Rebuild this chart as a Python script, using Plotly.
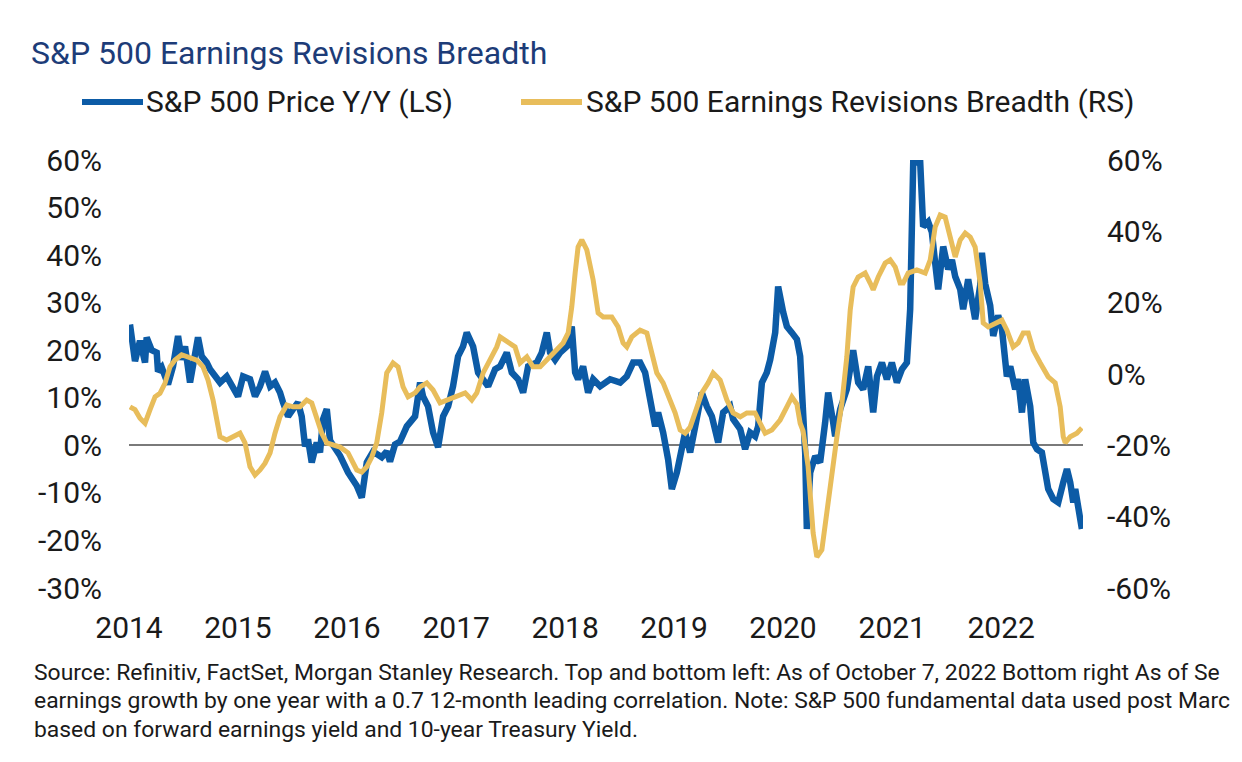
import pandas as pd
import plotly.graph_objects as go

# ---------------- data ----------------
# decimal years
price_t = [2014.009, 2014.055, 2014.101, 2014.147, 2014.162, 2014.208, 2014.254, 2014.266, 2014.300, 2014.358,
           2014.404, 2014.450, 2014.483, 2014.514, 2014.560, 2014.587, 2014.633, 2014.667, 2014.713, 2014.743,
           2014.789, 2014.835, 2014.896, 2014.954, 2015.000, 2015.046, 2015.110, 2015.156, 2015.202, 2015.248,
           2015.294, 2015.339, 2015.385, 2015.413, 2015.459, 2015.505, 2015.550, 2015.584, 2015.615, 2015.642,
           2015.676, 2015.722, 2015.752, 2015.780, 2015.814, 2015.844, 2015.936, 2016.009, 2016.089, 2016.135,
           2016.181, 2016.239, 2016.318, 2016.364, 2016.394, 2016.440, 2016.486, 2016.548, 2016.624, 2016.670,
           2016.697, 2016.743, 2016.789, 2016.835, 2016.881, 2016.927, 2016.972, 2017.018, 2017.064, 2017.098,
           2017.156, 2017.202, 2017.248, 2017.294, 2017.358, 2017.404, 2017.465, 2017.511, 2017.569, 2017.615,
           2017.661, 2017.740, 2017.786, 2017.832, 2017.862, 2017.908, 2017.954, 2018.016, 2018.061, 2018.092,
           2018.119, 2018.165, 2018.211, 2018.257, 2018.321, 2018.413, 2018.505, 2018.566, 2018.624, 2018.688,
           2018.734, 2018.780, 2018.826, 2018.853, 2018.899, 2018.945, 2018.979, 2019.025, 2019.071, 2019.101,
           2019.147, 2019.208, 2019.254, 2019.300, 2019.346, 2019.404, 2019.450, 2019.514, 2019.541, 2019.606,
           2019.651, 2019.697, 2019.743, 2019.771, 2019.805, 2019.850, 2019.881, 2019.927, 2019.954, 2020.000,
           2020.034, 2020.080, 2020.126, 2020.156, 2020.183, 2020.202, 2020.217, 2020.248, 2020.294, 2020.339,
           2020.385, 2020.413, 2020.459, 2020.477, 2020.523, 2020.584, 2020.642, 2020.688, 2020.734, 2020.780,
           2020.826, 2020.860, 2020.906, 2020.951, 2020.997, 2021.043, 2021.089, 2021.135, 2021.165, 2021.193,
           2021.257, 2021.284, 2021.330, 2021.364, 2021.394, 2021.422, 2021.468, 2021.514, 2021.548, 2021.578,
           2021.624, 2021.651, 2021.697, 2021.761, 2021.807, 2021.823, 2021.853, 2021.899, 2021.927, 2021.972,
           2022.006, 2022.052, 2022.083, 2022.128, 2022.156, 2022.190, 2022.220, 2022.266, 2022.294, 2022.328,
           2022.373, 2022.404, 2022.431, 2022.477, 2022.523, 2022.569, 2022.603, 2022.633, 2022.661, 2022.679,
           2022.706, 2022.740]
price_yoy = [25.4, 17.7, 22.0, 17.4, 22.7, 20.0, 19.5, 15.5, 16.4, 12.8,
             16.6, 23.0, 18.0, 20.8, 13.2, 17.4, 22.7, 18.7, 17.4, 16.0,
             14.5, 13.2, 14.5, 12.4, 10.3, 14.5, 13.9, 10.3, 12.4, 15.5,
             12.4, 13.2, 11.1, 9.0, 6.1, 7.6, 9.0, 6.1, -0.2, 1.3,
             -3.6, 0.6, -1.5, 5.5, 7.6, 1.0, -2.2, -5.7, -8.5, -11.0,
             -3.6, -1.3, -2.5, -1.3, -3.4, 0.2, 0.8, 4.0, 6.1, 13.2,
             10.3, 8.2, 2.7, -0.4, 6.1, 8.2, 12.4, 18.7, 20.8, 23.7,
             20.8, 15.3, 13.9, 12.4, 16.0, 16.6, 19.5, 15.3, 13.9, 11.1,
             16.6, 17.4, 19.5, 23.7, 19.5, 18.0, 19.5, 20.8, 25.0, 15.3,
             13.9, 16.6, 11.1, 13.9, 12.4, 13.9, 13.2, 14.5, 17.4, 17.4,
             15.3, 9.7, 4.0, 6.9, 2.7, -3.0, -9.2, -5.7, -0.2, 2.7,
             -1.5, 4.8, 11.1, 8.2, 6.1, 0.6, 6.9, 8.2, 5.5, 3.4,
             -0.8, 2.7, 1.9, 4.0, 13.2, 15.3, 18.0, 23.7, 33.4, 28.0,
             25.0, 23.7, 22.3, 18.7, 8.2, -1.5, -17.6, -5.7, -2.3, -3.6,
             4.8, 11.1, 4.8, 1.9, 7.6, 11.8, 20.0, 13.2, 11.8, 16.6,
             6.9, 14.5, 17.4, 13.9, 17.4, 13.2, 16.0, 17.4, 28.6, 59.5,
             59.5, 46.0, 47.0, 44.8, 38.4, 32.8, 41.8, 37.0, 39.0, 35.5,
             32.8, 28.6, 34.9, 26.5, 33.6, 40.5, 34.0, 29.4, 23.0, 27.3,
             24.6, 14.5, 16.6, 11.8, 13.9, 6.9, 13.9, 8.2, 0.6, -0.8,
             -1.5, -5.0, -9.2, -11.3, -12.0, -7.8, -5.0, -7.8, -12.0, -9.2,
             -13.4, -17.6]

breadth_t = [2014.009, 2014.055, 2014.101, 2014.147, 2014.193, 2014.239, 2014.284, 2014.330, 2014.376, 2014.422,
             2014.483, 2014.541, 2014.621, 2014.679, 2014.725, 2014.771, 2014.805, 2014.835, 2014.896, 2014.954,
             2015.018, 2015.064, 2015.110, 2015.156, 2015.202, 2015.248, 2015.294, 2015.339, 2015.385, 2015.447,
             2015.505, 2015.569, 2015.630, 2015.676, 2015.722, 2015.768, 2015.814, 2015.936, 2016.009, 2016.089,
             2016.135, 2016.181, 2016.227, 2016.272, 2016.318, 2016.364, 2016.422, 2016.468, 2016.514, 2016.560,
             2016.624, 2016.670, 2016.731, 2016.789, 2016.853, 2016.927, 2017.006, 2017.083, 2017.144, 2017.190,
             2017.248, 2017.312, 2017.373, 2017.404, 2017.465, 2017.541, 2017.587, 2017.649, 2017.706, 2017.771,
             2017.832, 2017.890, 2017.982, 2018.028, 2018.061, 2018.092, 2018.119, 2018.153, 2018.199, 2018.257,
             2018.303, 2018.349, 2018.428, 2018.486, 2018.532, 2018.566, 2018.612, 2018.688, 2018.750, 2018.795,
             2018.841, 2018.899, 2018.963, 2019.009, 2019.055, 2019.101, 2019.147, 2019.208, 2019.254, 2019.312,
             2019.358, 2019.422, 2019.484, 2019.541, 2019.606, 2019.667, 2019.743, 2019.789, 2019.835, 2019.896,
             2019.972, 2020.034, 2020.080, 2020.126, 2020.156, 2020.183, 2020.229, 2020.275, 2020.309, 2020.355,
             2020.401, 2020.447, 2020.493, 2020.539, 2020.584, 2020.615, 2020.642, 2020.688, 2020.752, 2020.798,
             2020.826, 2020.872, 2020.936, 2020.982, 2021.028, 2021.073, 2021.101, 2021.147, 2021.226, 2021.303,
             2021.349, 2021.394, 2021.440, 2021.486, 2021.532, 2021.578, 2021.624, 2021.670, 2021.716, 2021.761,
             2021.807, 2021.835, 2021.881, 2021.945, 2022.006, 2022.052, 2022.110, 2022.156, 2022.202, 2022.248,
             2022.294, 2022.358, 2022.431, 2022.495, 2022.541, 2022.569, 2022.587, 2022.633, 2022.694, 2022.740]
breadth = [-9.2, -10.0, -12.4, -13.8, -10.0, -6.4, -5.4, -2.6, 2.0, 3.9,
           5.4, 4.8, 3.9, 2.0, -1.7, -7.3, -13.8, -17.6, -18.5, -17.6,
           -16.6, -19.3, -26.0, -28.3, -26.9, -25.0, -22.1, -16.6, -12.0, -8.7,
           -9.2, -9.2, -7.3, -8.1, -12.9, -16.6, -19.3, -20.5, -22.1, -26.9,
           -27.5, -26.0, -23.3, -19.3, -10.9, 0.3, 3.1, 2.0, -3.6, -6.4,
           -5.3, -3.6, -2.5, -4.5, -8.1, -7.3, -6.4, -5.3, -7.3, -5.3,
           0.3, 3.9, 7.6, 10.4, 9.2, 7.6, 3.1, 4.8, 2.0, 2.0,
           3.9, 5.9, 8.7, 11.5, 18.8, 28.3, 35.6, 37.6, 34.8, 26.4,
           17.1, 16.0, 16.0, 13.2, 8.7, 7.6, 10.4, 12.3, 11.5, 5.9,
           0.3, -2.5, -7.3, -10.9, -15.7, -16.6, -14.9, -9.2, -5.3, -2.5,
           0.3, -1.7, -7.3, -10.9, -12.0, -10.9, -10.9, -13.8, -16.6, -15.7,
           -12.9, -9.2, -6.4, -8.5, -13.8, -16.0, -26.0, -44.6, -51.3, -49.3,
           -38.1, -26.9, -17.6, -8.1, 4.8, 17.9, 24.4, 27.2, 28.3, 25.5,
           23.6, 27.2, 31.1, 32.0, 30.0, 25.5, 25.5, 28.3, 29.2, 28.3,
           32.0, 41.2, 44.6, 44.0, 38.4, 32.8, 37.6, 39.5, 38.4, 35.6,
           25.5, 14.3, 13.2, 14.3, 15.1, 12.3, 7.6, 8.7, 11.5, 11.5,
           6.7, 3.1, -0.8, -2.5, -9.2, -17.6, -19.3, -17.6, -16.6, -15.1]

left_ticks = [60, 50, 40, 30, 20, 10, 0, -10, -20, -30]
left_labels = ["60%", "50%", "40%", "30%", "20%", "10%", "0%", "-10%", "-20%", "-30%"]
right_ticks = [60, 40, 20, 0, -20, -40, -60]
right_labels = ["60%", "40%", "20%", "0%", "-20%", "-40%", "-60%"]
years = [2014, 2015, 2016, 2017, 2018, 2019, 2020, 2021, 2022]

series_names = ["S&P 500 Price Y/Y (LS)", "S&P 500 Earnings Revisions Breadth (RS)"]
title_text = "S&P 500 Earnings Revisions Breadth"
# footer as visible in the reference (it runs off the right edge there)
footer_lines = [
    "Source: Refinitiv, FactSet, Morgan Stanley Research. Top and bottom left: As of October 7, 2022 Bottom right As of Se",
    "earnings growth by one year with a 0.7 12-month leading correlation. Note: S&P 500 fundamental data used post Marc",
    "based on forward earnings yield and 10-year Treasury Yield.",
]

# ---------------- styling ----------------
BLUE = "#0C5BA6"
GOLD = "#E8BD5B"
NAVY = "#1D3C78"
TEXT = "#1a1a1a"
W, H = 1242, 762
ML, MR, MT, MB = 129, 159, 160, 174
PW, PH = W - ML - MR, H - MT - MB
REG = "Roboto, Liberation Sans, sans-serif"


def to_dates(ts):
    base = pd.Timestamp("2014-01-01")
    return [base + pd.to_timedelta((t - 2014) * 365.25, unit="D") for t in ts]


def px(x):
    return (x - ML) / PW


def py(y):
    return (H - MB - y) / PH


fig = go.Figure()
fig.add_trace(go.Scatter(x=to_dates(price_t), y=price_yoy, mode="lines", name=series_names[0],
                         line=dict(color=BLUE, width=6.5), yaxis="y"))
fig.add_trace(go.Scatter(x=to_dates(breadth_t), y=breadth, mode="lines", name=series_names[1],
                         line=dict(color=GOLD, width=5), yaxis="y2"))

# manual legend (line + text)
shapes = [
    dict(type="line", xref="paper", yref="paper", x0=px(82), x1=px(143), y0=py(102), y1=py(102),
         line=dict(color=BLUE, width=6)),
    dict(type="line", xref="paper", yref="paper", x0=px(521), x1=px(582), y0=py(102), y1=py(102),
         line=dict(color=GOLD, width=6)),
]
annotations = [
    dict(text=series_names[0], xref="paper", yref="paper", x=px(144), y=py(102), xanchor="left",
         yanchor="middle", showarrow=False, font=dict(family=REG, size=30, color=TEXT)),
    dict(text=series_names[1], xref="paper", yref="paper", x=px(584), y=py(102), xanchor="left",
         yanchor="middle", showarrow=False, font=dict(family=REG, size=30, color=TEXT)),
]
for line_text, yc in zip(footer_lines, [672, 700, 729]):
    annotations.append(dict(text=line_text, xref="paper", yref="paper", x=px(32), y=py(yc),
                            xanchor="left", yanchor="middle", align="left", showarrow=False,
                            font=dict(family=REG, size=22.9, color=TEXT)))

fig.update_layout(
    width=W, height=H,
    margin=dict(l=ML, r=MR, t=MT, b=MB),
    paper_bgcolor="white", plot_bgcolor="white",
    showlegend=False,
    title=dict(text=title_text, xref="container", yref="container", x=31 / W, y=1 - 53 / H,
               xanchor="left", yanchor="middle", font=dict(family=REG, size=32, color=NAVY)),
    xaxis=dict(type="date", range=["2014-01-01", "2022-10-02"], showgrid=False, zeroline=False,
               showline=False, tickvals=[f"{y}-01-01" for y in years], ticktext=[str(y) for y in years],
               tickfont=dict(family=REG, size=30, color=TEXT), ticklabelstandoff=19),
    yaxis=dict(range=[-30, 60], showgrid=False, zeroline=True, zerolinecolor="#7a7a7a", zerolinewidth=2,
               showline=False, tickvals=left_ticks, ticktext=left_labels,
               tickfont=dict(family=REG, size=30, color=TEXT), ticklabelstandoff=26),
    yaxis2=dict(range=[-60, 60], overlaying="y", side="right", showgrid=False, zeroline=False,
                showline=False, tickvals=right_ticks, ticktext=right_labels,
                tickfont=dict(family=REG, size=30, color=TEXT), ticklabelstandoff=23),
    shapes=shapes,
    annotations=annotations,
)

fig.write_html("out.html")
